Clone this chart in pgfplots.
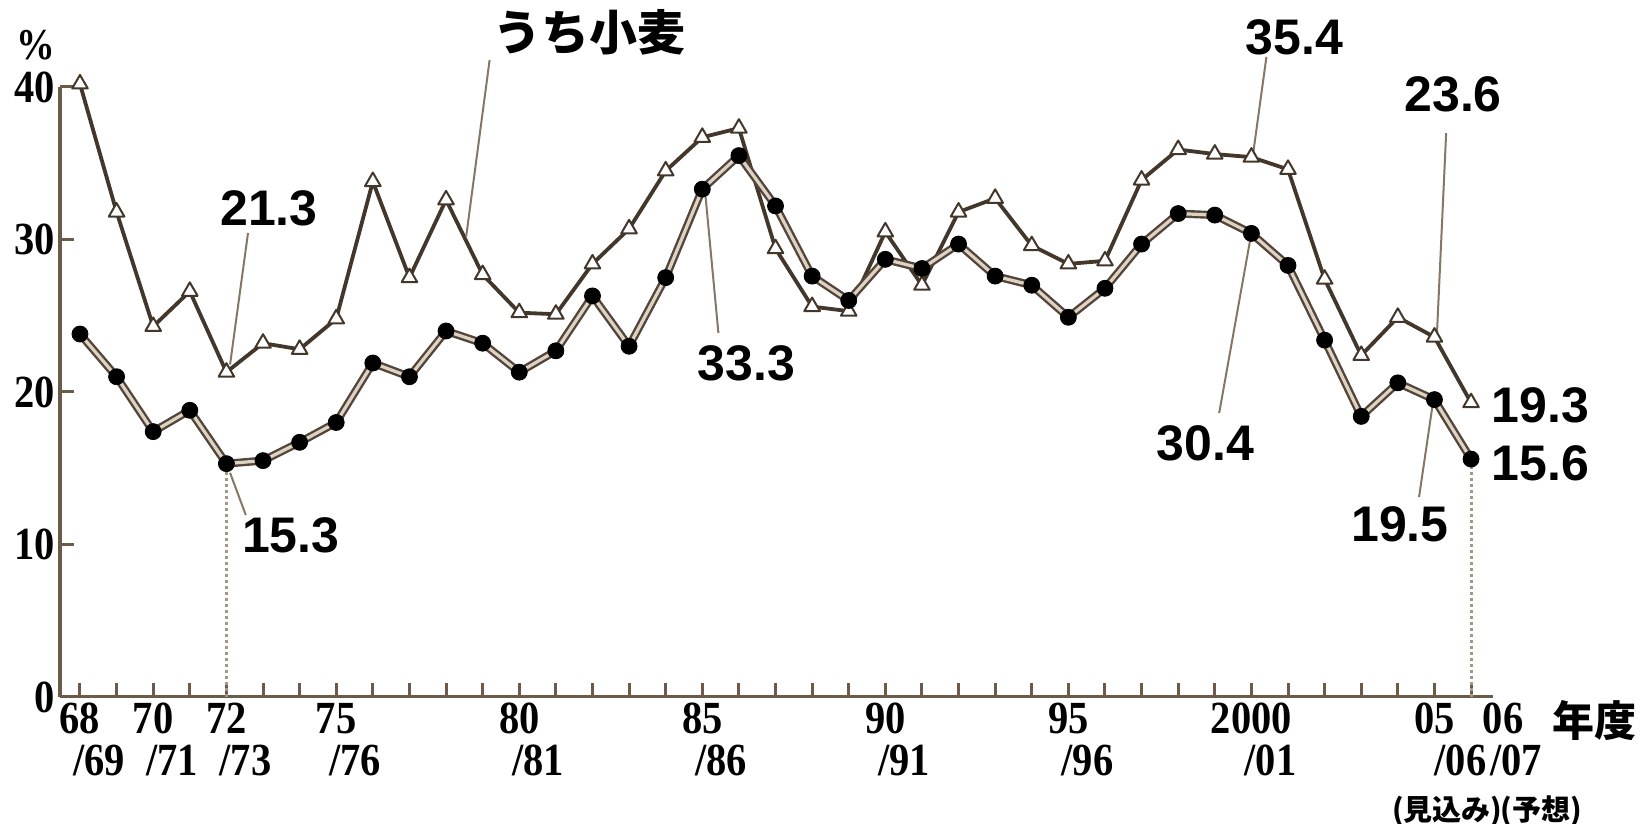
\documentclass[border=0pt]{standalone}
\usepackage{pgfplots}
\usepackage{pgfplotstable}
\pgfplotsset{compat=1.18}
\usepackage{fontspec}
\setmainfont{Liberation Sans}
\newfontfamily\tickfont[FakeStretch=0.88]{Liberation Serif}
\newfontfamily\jp{Noto Sans CJK JP}

\definecolor{axbrown}{HTML}{6B5B48}
\definecolor{tribrown}{HTML}{43362A}
\definecolor{edgebrown}{HTML}{54453A}
\definecolor{corebeige}{HTML}{DCD3C3}
\definecolor{leader}{HTML}{857764}
\definecolor{dotcol}{HTML}{A39886}

% two-line year label, second line nudged right
\newcommand{\xl}[3][19pt]{\makebox[0pt]{#2}\\\makebox[0pt]{\hspace*{#1}#3}}
\newcommand{\vlab}{\bfseries\fontsize{25}{25}\selectfont}
\newcommand{\note}{\jp\bfseries\fontsize{14.5}{14.5}\selectfont}

% うち小麦
\pgfplotstableread{
yr  v
68  40.2
69  31.8
70  24.3
71  26.6
72  21.3
73  23.2
74  22.8
75  24.8
76  33.8
77  27.5
78  32.6
79  27.7
80  25.2
81  25.1
82  28.4
83  30.7
84  34.5
85  36.7
86  37.3
87  29.4
88  25.6
89  25.3
90  30.5
91  27.0
92  31.8
93  32.7
94  29.6
95  28.4
96  28.6
97  33.9
98  35.9
99  35.6
100 35.4
101 34.6
102 27.4
103 22.4
104 24.9
105 23.6
106 19.3
}\wheat

\pgfplotstableread{
yr  v
68  23.8
69  21.0
70  17.4
71  18.8
72  15.3
73  15.5
74  16.7
75  18.0
76  21.9
77  21.0
78  24.0
79  23.2
80  21.3
81  22.7
82  26.3
83  23.0
84  27.5
85  33.3
86  35.5
87  32.2
88  27.6
89  26.0
90  28.7
91  28.1
92  29.7
93  27.6
94  27.0
95  24.9
96  26.8
97  29.7
98  31.7
99  31.6
100 30.4
101 28.3
102 23.4
103 18.4
104 20.6
105 19.5
106 15.6
}\grain

\begin{document}
\begin{tikzpicture}
\path[use as bounding box] (-30pt,-63.5pt) rectangle (795pt,348.5pt);
\begin{axis}[
  at={(0,0)}, anchor=south west,
  scale only axis, width=716.5pt, height=305pt,
  xmin=67.454, xmax=106.6, ymin=0, ymax=40,
  axis lines=left,
  axis line style={axbrown, line width=1.5pt, -},
  tick align=inside,
  major tick length=7pt, minor tick length=7pt,
  tick style={axbrown, line width=1.5pt},
  xtick={68,70,72,75,80,85,90,95,100,105,106},
  minor xtick={68,...,106},
  xticklabels={
    {\xl{68}{/69}},
    {\xl{70}{/71}},
    {\xl{72}{/73}},
    {\xl{75}{/76}},
    {\xl{80}{/81}},
    {\xl{85}{/86}},
    {\xl{90}{/91}},
    {\xl{95}{/96}},
    {\xl{2000}{/01}},
    {\makebox[0pt]{05}\\\makebox[0pt]{\hspace*{26pt}/06}\\[1.5pt]\makebox[0pt]{\hspace*{13pt}\note (見込み)}},
    {\makebox[0pt]{\hspace*{32pt}06}\\\makebox[0pt]{\hspace*{45pt}/07}\\[1.5pt]\makebox[0pt]{\hspace*{70pt}\note (予想)}}
  },
  xticklabel style={font=\tickfont\bfseries\fontsize{23}{21}\selectfont,
    align=center, anchor=north, inner sep=0pt, yshift=-3pt},
  ytick={0,10,20,30,40},
  yticklabels={0,10,20,30,40},
  yticklabel style={font=\tickfont\bfseries\fontsize{23}{23}\selectfont,
    anchor=east, inner sep=0pt, xshift=-2.5pt},
  clip=false,
]
% dotted guides
\addplot[dotcol, line width=1.5pt, dash pattern=on 1.5pt off 1.5pt] coordinates {(72,0) (72,15.3)};
\addplot[dotcol, line width=1.5pt, dash pattern=on 1.5pt off 1.5pt] coordinates {(106,0) (106,15.6)};

% wheat
\addplot[tribrown, line width=1.9pt, line join=round, mark=triangle*, mark size=4.5pt,
  mark options={fill=white, draw=tribrown, line width=1pt}] table[x=yr, y=v] {\wheat};

% grain (double line)
\addplot[edgebrown, line width=4pt, line join=round, no marks] table[x=yr, y=v] {\grain};
\addplot[corebeige, line width=1.6pt, line join=round, no marks] table[x=yr, y=v] {\grain};
\addplot[only marks, mark=*, mark size=4pt, mark options={fill=black, draw=black}] table[x=yr, y=v] {\grain};

% leader lines
\draw[leader, line width=1pt] (axis cs:79.19,41.77) -- (axis cs:78.55,30.2);
\draw[leader, line width=1pt] (axis cs:72.59,30.43) -- (axis cs:72.1,21.8);
\draw[leader, line width=1pt] (axis cs:72.1,14.7) -- (axis cs:72.53,11.93);
\draw[leader, line width=1pt] (axis cs:85.44,23.87) -- (axis cs:85.09,32.79);
\draw[leader, line width=1pt] (axis cs:100.41,41.97) -- (axis cs:100.05,35.67);
\draw[leader, line width=1pt] (axis cs:99.12,18.62) -- (axis cs:100.0,30.43);
\draw[leader, line width=1pt] (axis cs:105.32,36.98) -- (axis cs:105.07,23.87);
\draw[leader, line width=1pt] (axis cs:104.58,13.11) -- (axis cs:104.97,19.48);

% labels
\node[font=\jp\bfseries\fontsize{24}{24}\selectfont] at (axis cs:81.92,43.6) {うち小麦};
\node[font=\vlab] at (axis cs:73.16,32.07) {21.3};
\node[font=\vlab] at (axis cs:73.76,10.62) {15.3};
\node[font=\vlab] at (axis cs:86.21,21.9) {33.3};
\node[font=\vlab] at (axis cs:101.17,43.28) {35.4};
\node[font=\vlab] at (axis cs:98.74,16.66) {30.4};
\node[font=\vlab] at (axis cs:105.51,39.54) {23.6};
\node[font=\vlab, anchor=west, inner sep=0pt] at (axis cs:106.55,19.15) {19.3};
\node[font=\vlab, anchor=west, inner sep=0pt] at (axis cs:106.55,15.34) {15.6};
\node[font=\vlab] at (axis cs:104.06,11.34) {19.5};
\node[font=\tickfont\bfseries\fontsize{22}{22}\selectfont] at (axis cs:66.8,42.75) {\%};
\node[font=\jp\bfseries\fontsize{21}{21}\selectfont] at (axis cs:109.36,-1.57) {年度};
\end{axis}
\end{tikzpicture}
\end{document}
